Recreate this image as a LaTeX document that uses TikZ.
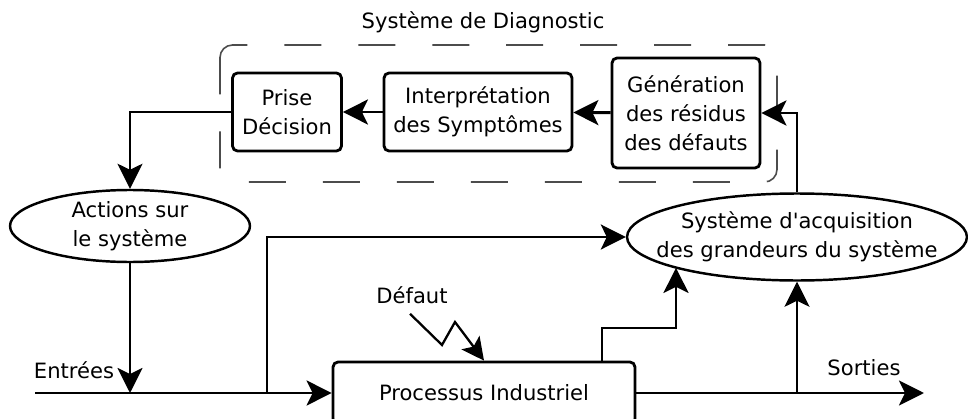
\documentclass[tikz,border=0pt]{standalone}
\usepackage{fontspec}
\setmainfont{DejaVu Sans}
\usepackage{tikz}
\usetikzlibrary{calc,positioning,arrows.meta,shapes.geometric}
\tikzstyle{bloc} = [rectangle, rounded corners=0.1cm, line width=1.6pt, draw=black, align=center, inner sep=0pt]
\tikzstyle{ovale} = [ellipse, line width=1.4pt, draw=black, align=center, inner sep=0pt]
\tikzstyle{cadre} = [draw=black!70, line width=0.9pt, dash pattern=on 0.74cm off 0.74cm, rounded corners=0.25cm]
\tikzstyle{arrow} = [line width=1.7pt,->,>={Stealth[length=0.5cm,width=0.5cm,inset=0.12cm]}]
\tikzstyle{arrow2} = [line width=1.3pt,->,>={Stealth[length=0.45cm,width=0.45cm,inset=0.1cm]}]

\begin{document}
\begin{tikzpicture}[x=0.02cm,y=-0.02cm,font=\fontsize{12}{16.5}\selectfont]
\useasboundingbox (0,0) rectangle (968,419);
\draw [cadre] (220,45) rectangle (777,182);
\node (titre) at (483,22) {Système de Diagnostic};
 \node (prise) [bloc,minimum width=2.18cm,minimum height=1.56cm] at (287,112) {Prise\\Décision};
 \node (interp) [bloc,minimum width=3.76cm,minimum height=1.56cm] at (478,112) {Interprétation\\des Symptômes};
 \node (gen) [bloc,minimum width=2.96cm,minimum height=2.2cm] at (686,113) {Génération\\des résidus\\des défauts};
\node (act) [ovale,minimum width=4.8cm,minimum height=1.44cm] at (130,226) {Actions sur\\le système};
\node (acq) [ovale,inner xsep=-0.42cm,minimum width=6.8cm,minimum height=1.74cm] at (797,237) {Système d\textquotesingle acquisition\\des grandeurs du système};
 \node (proc) [bloc,minimum width=6.04cm,minimum height=1.24cm] at (484,393) {Processus Industriel};
\node (entrees) at (74,370) {Entrées};
\node (sorties) at (864,368) {Sorties};
\node (defaut) at (412,295) {Défaut};
\coordinate (ein) at (35,393);
\coordinate (sout) at (924,393);
\coordinate (b1) at (267,393);
\coordinate (k1) at (602,362);
\coordinate (k2) at (676,328);
\coordinate (z1) at (442,345);
\coordinate (z2) at (455,322);
\draw [arrow] (gen) -- (interp);
\draw [arrow] (interp) -- (prise);
\draw [arrow] (acq.north) |- (gen.east);
\draw [arrow] (prise.west) -| (act.north);
\draw [arrow] (act.south) -- (act.south |- ein);
\draw [arrow] (ein) -- (proc.west);
\draw [arrow] (b1) |- (acq.west);
\draw [arrow] (k1) |- (k2) -- (k2 |- acq.-166);
\draw [arrow] (proc.east) -- (sout);
\draw [arrow] (acq.south |- proc.east) -- (acq.south);
\draw [arrow2] ($(defaut.south)+(-2,4)$) -- (z1) -- (z2) -- (proc.north);
\end{tikzpicture}
\end{document}
